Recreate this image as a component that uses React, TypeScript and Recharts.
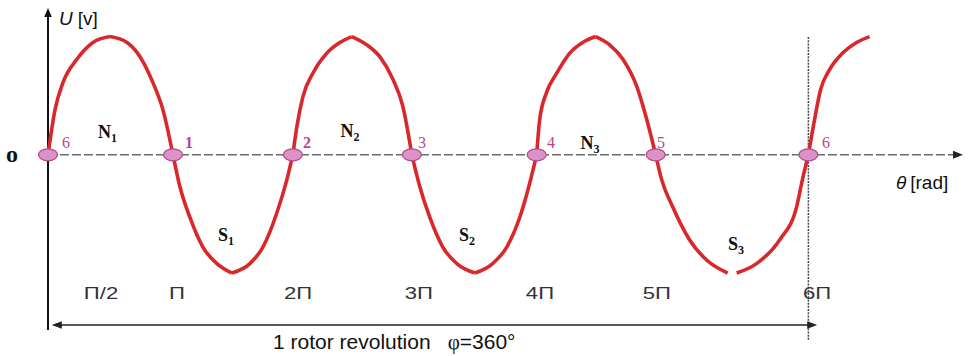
import React from 'react';
import { LineChart, Line, XAxis, YAxis, ReferenceLine, ReferenceDot } from 'recharts';

// Horizontal axis: electrical angle θ in multiples of π. Vertical axis: U relative to its peak.
const waveTheta = [
  0, 0.055, 0.118, 0.229, 0.355, 0.489, 0.623, 0.726, 0.828, 0.907, 0.986,
  1.041, 1.12, 1.222, 1.333, 1.451, 1.593, 1.696, 1.806, 1.885, 1.932,
  1.964, 2.011, 2.09, 2.2, 2.303, 2.397, 2.516, 2.618, 2.721, 2.8, 2.871,
  2.934, 3.013, 3.115, 3.226, 3.368, 3.509, 3.62, 3.722, 3.801, 3.856,
  3.88, 3.935, 4.014, 4.117, 4.219, 4.322, 4.432, 4.535, 4.645, 4.724, 4.795,
  4.842, 4.929, 5.063, 5.197, 5.363, 5.4, 5.434, 5.591, 5.773, 5.907, 5.953, 6.0,
  6.049, 6.096, 6.167, 6.27, 6.38, 6.483,
];
const waveVoltage: (number | null)[] = [
  0, 0.38, 0.61, 0.81, 0.95, 1.0, 0.95, 0.83, 0.61, 0.38, 0,
  -0.27, -0.53, -0.78, -0.92, -1.0, -0.92, -0.78, -0.49, -0.21, 0,
  0.24, 0.49, 0.69, 0.86, 0.95, 1.0, 0.93, 0.83, 0.64, 0.41, 0,
  -0.27, -0.53, -0.78, -0.92, -1.0, -0.92, -0.78, -0.53, -0.24, 0,
  0.3, 0.53, 0.69, 0.86, 0.95, 1.0, 0.93, 0.81, 0.58, 0.3, 0,
  -0.21, -0.44, -0.72, -0.89, -1.0, null, -1.0, -0.92, -0.72, -0.44, -0.21, 0,
  0.3, 0.55, 0.72, 0.86, 0.95, 1.0,
];

// Zero crossings of the induced voltage (coil positions 1..6)
const crossingTheta = [0, 0.986, 1.932, 2.871, 3.856, 4.795, 6.0];
const crossingNames = ['6', '1', '2', '3', '4', '5', '6'];
const crossingNameTheta = [0.11, 1.081, 2.012, 2.92, 3.938, 4.806, 6.108];
const crossingNameBold = [false, true, true, false, false, false, false];

// Rotor poles under each half-wave
const poleLetters = ['N', 'S', 'N', 'S', 'N', 'S'];
const poleIndex = ['1', '1', '2', '2', '3', '3'];
const poleTheta = [0.469, 1.405, 2.383, 3.306, 4.277, 5.429];
const poleVoltage = [0.142, -0.729, 0.15, -0.729, 0.049, -0.805];

// Angle labels along the bottom
const angleTickTheta = [0.418, 1.018, 1.973, 2.927, 3.882, 4.805, 6.068];
const angleTickLabels = ['Π/2', 'Π', '2Π', '3Π', '4Π', '5Π', '6Π'];

// Each quarter-wave (zero → extremum or extremum → zero) is its own smooth piece,
// alternating between two keys so the tips of the waves stay pointed.
const isTurningPoint = (u: number) => u === 0 || u === 1 || u === -1;
const data: { t: number; a: number | null; b: number | null }[] = [];
{
  let quarter = 0;
  waveTheta.forEach((t, i) => {
    const u = waveVoltage[i];
    const row: { t: number; a: number | null; b: number | null } = { t, a: null, b: null };
    if (u !== null) {
      row[quarter % 2 === 0 ? 'a' : 'b'] = u;
      if (i > 0 && isTurningPoint(u)) {
        quarter += 1;
        row[quarter % 2 === 0 ? 'a' : 'b'] = u;
      }
    }
    data.push(row);
  });
}

const X_MAX = 7.22;
const Y_MIN = -1.6;
const Y_MAX = 1.25;

const SANS = '"Liberation Sans", Arial, sans-serif';
const SERIF = '"Liberation Serif", "Times New Roman", serif';
const PINK = '#b4478a';
const RED = '#d8282b';

type Dir = 'up' | 'left' | 'right';
const arrowHead = (dir: Dir, len: number, half: number, fill: string) => (p: any) => {
  const { cx, cy } = p;
  let pts = '';
  if (dir === 'up') pts = `${cx},${cy} ${cx - half},${cy + len} ${cx + half},${cy + len}`;
  if (dir === 'right') pts = `${cx},${cy} ${cx - len},${cy - half} ${cx - len},${cy + half}`;
  if (dir === 'left') pts = `${cx},${cy} ${cx + len},${cy - half} ${cx + len},${cy + half}`;
  return <polygon points={pts} fill={fill} />;
};

const crossingMarker = (p: any) => (
  <ellipse cx={p.cx} cy={p.cy} rx={9.5} ry={6} fill="#dc92c6" stroke="#b24a8b" strokeWidth={1.3} />
);

export default function App() {
  return (
    <div style={{ position: 'absolute', left: 0, top: 0, width: 968, height: 356, background: '#ffffff' }}>
      <LineChart
        width={968}
        height={356}
        data={data}
        margin={{ top: 7, right: 5, bottom: 12, left: 48 }}
      >
        <XAxis type="number" dataKey="t" domain={[0, X_MAX]} hide />
        <YAxis type="number" domain={[Y_MIN, Y_MAX]} hide />

        {/* θ axis (dashed) with arrow */}
        <ReferenceLine
          segment={[{ x: 0, y: 0 }, { x: 7.16, y: 0 }]}
          stroke="#6b6b6b"
          strokeWidth={1.5}
          strokeDasharray="9 3"
          ifOverflow="visible"
        />
        <ReferenceDot x={X_MAX} y={0} ifOverflow="visible" shape={arrowHead('right', 10, 4, '#222')} />

        {/* U axis */}
        <ReferenceLine
          segment={[{ x: 0, y: -1.482 }, { x: 0, y: 1.19 }]}
          stroke="#111"
          strokeWidth={2}
          ifOverflow="visible"
        />
        <ReferenceDot x={0} y={1.242} ifOverflow="visible" shape={arrowHead('up', 9, 3.8, '#111')} />

        {/* end of one mechanical revolution */}
        <ReferenceLine
          segment={[{ x: 6.0, y: -1.565 }, { x: 6.0, y: 1.0 }]}
          stroke="#444"
          strokeWidth={1.5}
          strokeDasharray="2 1.2"
          ifOverflow="visible"
        />

        {/* revolution bracket */}
        <ReferenceLine
          segment={[{ x: 0.06, y: -1.439 }, { x: 6.04, y: -1.439 }]}
          stroke="#222"
          strokeWidth={1.5}
          ifOverflow="visible"
        />
        <ReferenceDot x={0.03} y={-1.439} ifOverflow="visible" shape={arrowHead('left', 10, 3.8, '#222')} />
        <ReferenceDot x={6.07} y={-1.439} ifOverflow="visible" shape={arrowHead('right', 10, 3.8, '#222')} />

        <Line
          type="monotoneX"
          dataKey="a"
          stroke={RED}
          strokeWidth={3.6}
          dot={false}
          activeDot={false}
          connectNulls={false}
          isAnimationActive={false}
        />
        <Line
          type="monotoneX"
          dataKey="b"
          stroke={RED}
          strokeWidth={3.6}
          dot={false}
          activeDot={false}
          connectNulls={false}
          isAnimationActive={false}
        />

        {crossingTheta.map((t, i) => (
          <ReferenceDot key={`c${i}`} x={t} y={0} ifOverflow="visible" shape={crossingMarker} />
        ))}

        {crossingNames.map((name, i) => (
          <ReferenceDot
            key={`cn${i}`}
            x={crossingNameTheta[i]}
            y={0.058}
            ifOverflow="visible"
            shape={(p: any) => (
              <text
                x={p.cx}
                y={p.cy}
                fontFamily={SERIF}
                fontSize={16}
                fontWeight={crossingNameBold[i] ? 700 : 400}
                fill={PINK}
              >
                {name}
              </text>
            )}
          />
        ))}

        {poleLetters.map((letter, i) => (
          <ReferenceDot
            key={`p${i}`}
            x={poleTheta[i]}
            y={poleVoltage[i]}
            ifOverflow="visible"
            shape={(p: any) => (
              <text
                x={p.cx}
                y={p.cy}
                textAnchor="middle"
                fontFamily={SERIF}
                fontWeight={700}
                fontSize={18}
                fill="#111"
              >
                {letter}
                <tspan fontSize={12} dy={4}>{poleIndex[i]}</tspan>
              </text>
            )}
          />
        ))}

        {angleTickLabels.map((label, i) => (
          <ReferenceDot
            key={`a${i}`}
            x={angleTickTheta[i]}
            y={-1.22}
            ifOverflow="visible"
            shape={(p: any) => (
              <text
                transform={`translate(${p.cx},${p.cy}) scale(1.38,1)`}
                x={0}
                y={0}
                textAnchor="middle"
                fontFamily={SANS}
                fontSize={16}
                fill="#333"
              >
                {label}
              </text>
            )}
          />
        ))}

        {/* origin mark */}
        <ReferenceDot
          x={-0.284}
          y={-0.061}
          ifOverflow="visible"
          shape={(p: any) => (
            <text x={p.cx} y={p.cy} textAnchor="middle" fontFamily={SERIF} fontWeight={700} fontSize={24} fill="#111">
              o
            </text>
          )}
        />

        {/* axis titles */}
        <ReferenceDot
          x={0.087}
          y={1.098}
          ifOverflow="visible"
          shape={(p: any) => (
            <text x={p.cx} y={p.cy} fontFamily={SANS} fontSize={19} fill="#111">
              <tspan fontStyle="italic">U</tspan>
              <tspan dx={5}>[v]</tspan>
            </text>
          )}
        />
        <ReferenceDot
          x={6.691}
          y={-0.289}
          ifOverflow="visible"
          shape={(p: any) => (
            <text x={p.cx} y={p.cy} fontFamily={SANS} fontSize={19} fill="#111">
              <tspan fontStyle="italic">θ</tspan>
              <tspan dx={4}>[rad]</tspan>
            </text>
          )}
        />

        {/* caption under the bracket */}
        <ReferenceDot
          x={1.776}
          y={-1.642}
          ifOverflow="visible"
          shape={(p: any) => (
            <text x={p.cx} y={p.cy} fontFamily={SANS} fontSize={21} fill="#111">
              1 rotor revolution
              <tspan dx={17} fontFamily={SERIF}>φ</tspan>
              <tspan>=360°</tspan>
            </text>
          )}
        />
      </LineChart>
    </div>
  );
}
